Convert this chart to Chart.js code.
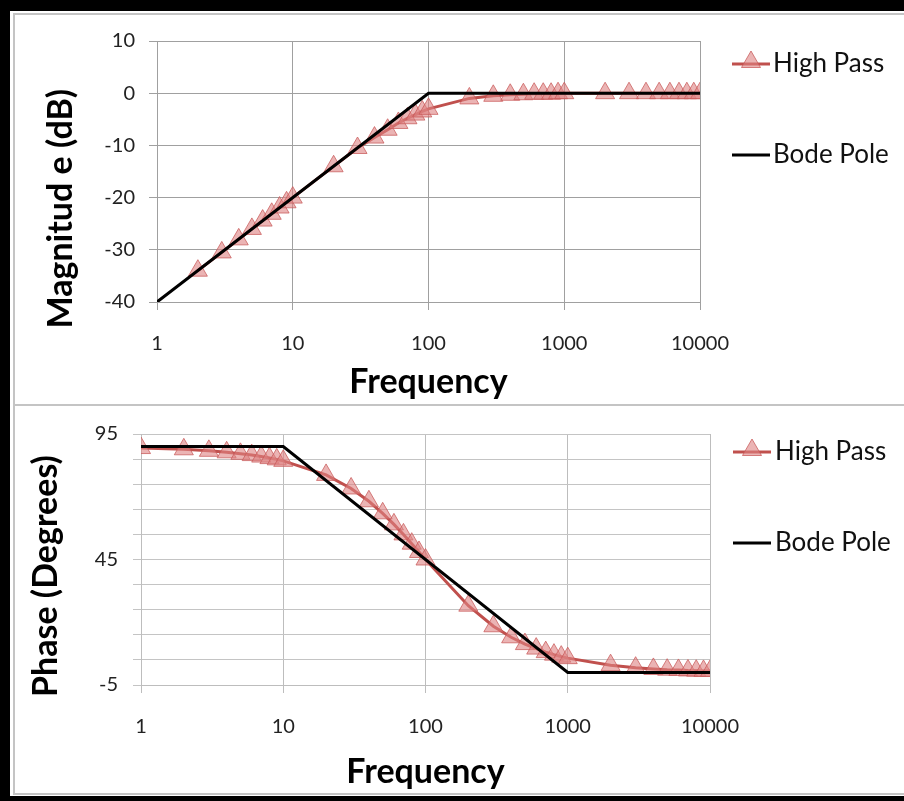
<!DOCTYPE html>
<html lang="en">
<head>
    <meta charset="UTF-8">
    <title>High Pass Bode Plot</title>
    <script src="https://cdn.jsdelivr.net/npm/chart.js"></script>
    <style>
        html, body {
            margin: 0;
            background: #fff;
            overflow: hidden;
            font-family: Lato, sans-serif;
        }
        .bar {
            position: absolute;
            background: #000;
        }
        #barTop { left: 0; top: 0; width: 904px; height: 11px; }
        #barLeft { left: 0; top: 0; width: 10px; height: 801px; }
        #barBottom { left: 0; top: 796px; width: 904px; height: 5px; }
        #panel {
            position: absolute;
            left: 13px;
            top: 13px;
            width: 891px;
            height: 782px;
            box-sizing: border-box;
            border-top: 2px solid #c4c4c4;
            border-left: 2px solid #c4c4c4;
            border-bottom: 2px solid #c4c4c4;
        }
        #sep {
            position: absolute;
            left: 13px;
            top: 404px;
            width: 891px;
            height: 2px;
            background: #c4c4c4;
        }
        .edge {
            position: absolute;
            left: 896px;
            width: 8px;
            background: #fff;
            z-index: 5;
        }
        #edgeTop { top: 15px; height: 389px; }
        #edgeBottom { top: 406px; height: 387px; }
        canvas {
            position: absolute;
            left: 16px;
        }
        #magChart { top: 15px; }
        #phaseChart { top: 407px; }
    </style>
</head>
<body>
    <div class="bar" id="barTop"></div>
    <div class="bar" id="barLeft"></div>
    <div class="bar" id="barBottom"></div>
    <div id="panel"></div>
    <div id="sep"></div>
    <canvas id="magChart" width="880" height="388"></canvas>
    <canvas id="phaseChart" width="880" height="385"></canvas>
    <div class="edge" id="edgeTop"></div>
    <div class="edge" id="edgeBottom"></div>

    <script>
        // magnitude plot (dB)
        const magFreq = [2, 3, 4, 5, 6, 7, 8, 9, 10, 20, 30, 40, 50, 60, 70, 80, 90, 100,
            200, 300, 400, 500, 600, 700, 800, 900, 1000,
            2000, 3000, 4000, 5000, 6000, 7000, 8000, 9000, 10000];
        const magHighPass = [-34.0, -30.5, -28.0, -26.0, -24.4, -23.1, -21.9, -20.9, -20.0,
            -14.0, -10.5, -8.5, -7.0, -5.7, -4.8, -4.1, -3.5, -3.0,
            -1.0, -0.5, -0.3, -0.2, -0.1, -0.1, -0.1, 0, 0,
            0, 0, 0, 0, 0, 0, 0, 0, 0];
        const magBodeFreq = [1, 100, 10000];
        const magBode = [-40, 0, 0];

        // phase plot (degrees)
        const phaseFreq = [1, 2, 3, 4, 5, 6, 7, 8, 9, 10, 20, 30, 40, 50, 60, 70, 80, 90, 100,
            200, 300, 400, 500, 600, 700, 800, 900, 1000,
            2000, 3000, 4000, 5000, 6000, 7000, 8000, 9000, 10000];
        const phaseHighPass = [89.4, 88.9, 88.3, 87.7, 87.1, 86.6, 86.0, 85.4, 84.9, 84.3,
            78.7, 73.3, 68.2, 63.4, 59.0, 55.0, 51.3, 48.0, 45.0,
            26.6, 18.4, 14.0, 11.3, 9.5, 8.1, 7.1, 6.3, 5.7,
            2.9, 1.9, 1.4, 1.1, 1.0, 0.8, 0.7, 0.6, 0.6];
        const phaseBodeFreq = [1, 10, 1000, 10000];
        const phaseBode = [90, 90, 0, 0];

        const freqTicks = [1, 10, 100, 1000, 10000];
        const magTickLabels = [-40, -30, -20, -10, 0, 10];
        const phaseTickLabels = [-5, 45, 95];

        const seriesNames = ["High Pass", "Bode Pole"];

        const redLine = "#c0504d";
        const markerFill = "rgba(222, 130, 130, 0.6)";
        const markerEdge = "rgba(200, 90, 90, 0.75)";

        function toPoints(xs, ys) {
            return xs.map((x, i) => ({ x: x, y: ys[i] }));
        }

        // pad the title at its end so the visible text sits lower on the axis
        function padTitle(text, n) {
            return text + "\u00a0".repeat(n);
        }

        function drawTriangle(ctx, x, y, r) {
            ctx.beginPath();
            ctx.moveTo(x, y - r);
            ctx.lineTo(x + r * 0.866, y + r * 0.5);
            ctx.lineTo(x - r * 0.866, y + r * 0.5);
            ctx.closePath();
            ctx.fillStyle = markerFill;
            ctx.fill();
            ctx.strokeStyle = markerEdge;
            ctx.lineWidth = 1;
            ctx.stroke();
        }

        // legend on the right: line sample, optional marker, label
        const sideLegend = {
            id: "sideLegend",
            afterDraw(chart, args, opts) {
                const ctx = chart.ctx;
                seriesNames.forEach((name, i) => {
                    const ds = chart.data.datasets.find(d => d.label === name);
                    const y = opts.rows[i];
                    ctx.save();
                    ctx.strokeStyle = ds.borderColor;
                    ctx.lineWidth = 3;
                    ctx.beginPath();
                    ctx.moveTo(opts.x, y);
                    ctx.lineTo(opts.x + 38, y);
                    ctx.stroke();
                    if (ds.pointRadius > 0) {
                        drawTriangle(ctx, opts.x + 19, y - 2, 11);
                    }
                    ctx.fillStyle = "#111";
                    ctx.font = "26px Lato";
                    ctx.textBaseline = "middle";
                    ctx.fillText(name, opts.textX, y);
                    ctx.restore();
                });
            }
        };

        function freqAxis(gridColor, titlePad, height) {
            return {
                type: "logarithmic",
                min: 1,
                max: 10000,
                afterBuildTicks: scale => {
                    scale.ticks = freqTicks.map(v => ({ value: v }));
                },
                afterFit: scale => { scale.height = height; },
                ticks: {
                    color: "#222",
                    font: { family: "Lato", size: 20 },
                    padding: 22,
                    maxRotation: 0,
                    autoSkip: false,
                    callback: v => String(v)
                },
                grid: { color: gridColor, tickLength: 8 },
                border: { color: gridColor },
                title: {
                    display: true,
                    text: "Frequency",
                    color: "#000",
                    font: { family: "Lato", size: 34, weight: "bold" },
                    padding: { top: 0, bottom: titlePad }
                }
            };
        }

        function makeChart(id, opts) {
            return new Chart(document.getElementById(id), {
                type: "line",
                data: {
                    datasets: [
                        {
                            label: "High Pass",
                            data: opts.highPass,
                            borderColor: redLine,
                            borderWidth: 3,
                            pointStyle: "triangle",
                            pointRadius: 11,
                            pointBackgroundColor: markerFill,
                            pointBorderColor: markerEdge,
                            pointBorderWidth: 1,
                            order: 1
                        },
                        {
                            label: "Bode Pole",
                            data: opts.bode,
                            borderColor: "#000",
                            borderWidth: 3,
                            pointRadius: 0,
                            order: 0
                        }
                    ]
                },
                options: {
                    responsive: false,
                    animation: false,
                    devicePixelRatio: 1,
                    parsing: false,
                    layout: { padding: { left: 0, top: opts.top, right: opts.right, bottom: 0 } },
                    plugins: {
                        legend: { display: false },
                        tooltip: { enabled: false },
                        sideLegend: opts.legend
                    },
                    scales: {
                        x: freqAxis(opts.gridColor, opts.xTitlePad, opts.xHeight),
                        y: opts.y
                    }
                },
                plugins: [sideLegend]
            });
        }

        makeChart("magChart", {
            highPass: toPoints(magFreq, magHighPass),
            bode: toPoints(magBodeFreq, magBode),
            top: 25,
            right: 196,
            xHeight: 101,
            xTitlePad: 1,
            gridColor: "#a0a0a0",
            legend: { x: 716, textX: 757, rows: [49, 140] },
            y: {
                min: -40,
                max: 10,
                afterBuildTicks: scale => {
                    scale.ticks = magTickLabels.map(v => ({ value: v }));
                },
                afterFit: scale => { scale.width = 141; },
                ticks: {
                    color: "#222",
                    font: { family: "Lato", size: 20 },
                    padding: 14
                },
                grid: { color: "#a0a0a0", tickLength: 8 },
                border: { color: "#a0a0a0" },
                title: {
                    display: true,
                    text: padTitle("Magnitud e (dB)", 9),
                    color: "#000",
                    font: { family: "Lato", size: 34, weight: "bold" },
                    padding: { top: 25, bottom: 0 }
                }
            }
        });

        makeChart("phaseChart", {
            highPass: toPoints(phaseFreq, phaseHighPass),
            bode: toPoints(phaseBodeFreq, phaseBode),
            top: 26,
            right: 186,
            xHeight: 107,
            xTitlePad: 0,
            gridColor: "#bdbdbd",
            legend: { x: 717, textX: 759, rows: [45, 136] },
            y: {
                min: -5,
                max: 95,
                afterFit: scale => { scale.width = 125; },
                ticks: {
                    stepSize: 10,
                    color: "#222",
                    font: { family: "Lato", size: 20 },
                    padding: 15,
                    autoSkip: false,
                    callback: v => phaseTickLabels.includes(v) ? String(v) : ""
                },
                grid: { color: "#c4c4c4", tickLength: 8 },
                border: { color: "#bdbdbd" },
                title: {
                    display: true,
                    text: padTitle("Phase (Degrees)", 4),
                    color: "#000",
                    font: { family: "Lato", size: 34, weight: "bold" },
                    padding: { top: 10, bottom: 0 }
                }
            }
        });
    </script>
</body>
</html>
